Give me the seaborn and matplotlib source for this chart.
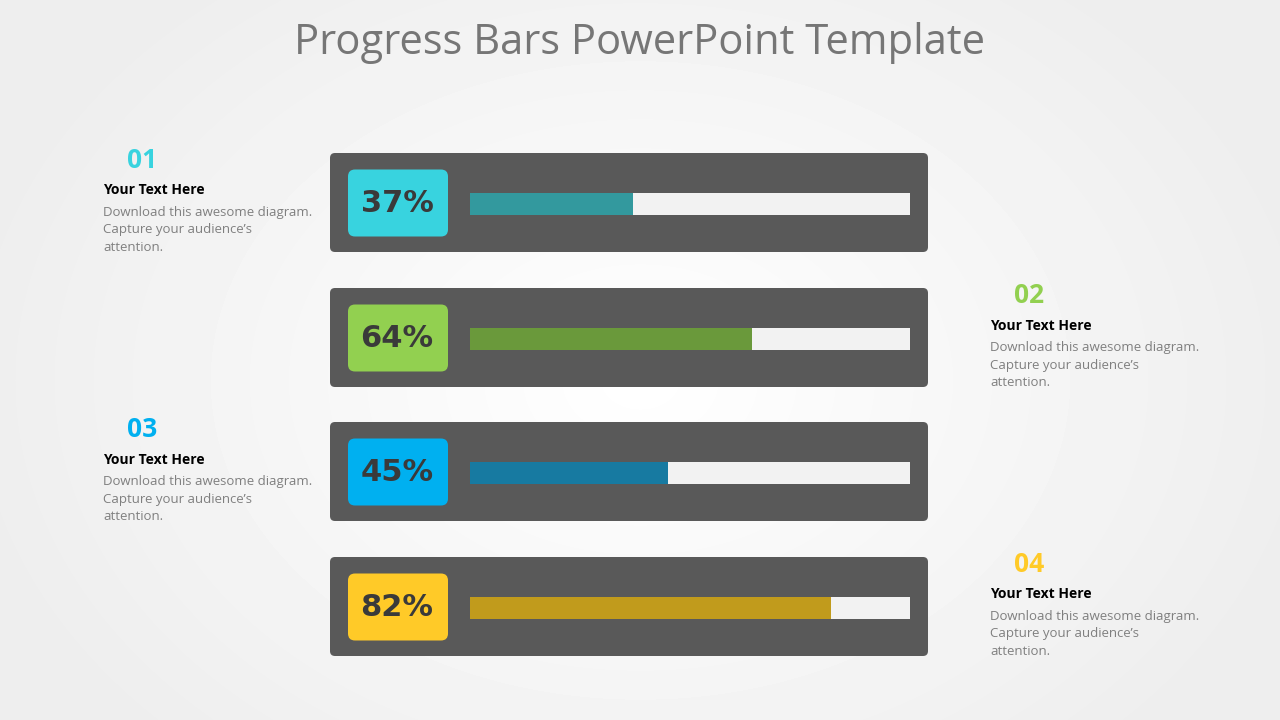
import numpy as np
import pandas as pd
import matplotlib.pyplot as plt
import seaborn as sns
from matplotlib.patches import FancyBboxPatch

# ---- data ----
labels = ["01", "02", "03", "04"]
values = [37, 64, 45, 82]
badge_colors = ["#38d3df", "#92d050", "#00b0f0", "#ffca28"]
fill_colors = ["#21a9b0", "#6aa82c", "#0084b8", "#dcaa00"]
title = "Progress Bars PowerPoint Template"
head = "Your Text Here"
desc = ["Download this awesome diagram.", "Capture your audience\u2019s", "attention."]

W, H = 1280, 720
fig = plt.figure(figsize=(12.8, 7.2), dpi=100)

# background layer in pixel coords
bg = fig.add_axes([0, 0, 1, 1])
bg.set_xlim(0, W)
bg.set_ylim(H, 0)
bg.axis("off")
yy, xx = np.mgrid[0:H, 0:W]
r = np.sqrt(((xx - 640) / 700) ** 2 + ((yy - 380) / 520) ** 2)
bg.imshow(1 - 0.07 * np.clip(r, 0, 1), cmap="gray", vmin=0, vmax=1,
          extent=[0, W, H, 0], zorder=0)

bg.text(640, 43, title, ha="center", va="center", fontsize=30,
        color="#767676", family="Open Sans")

centers = [202.5, 337.5, 471.5, 606.5]
for i, yc in enumerate(centers):
    bg.add_patch(FancyBboxPatch((330, yc - 49.5), 598, 99,
                                boxstyle="round,pad=0,rounding_size=5",
                                fc="#595959", ec="none", zorder=1))
    bg.add_patch(FancyBboxPatch((348, yc - 33), 100, 67,
                                boxstyle="round,pad=0,rounding_size=7",
                                fc=badge_colors[i], ec="none", zorder=2))
    bg.text(397, yc + 1, f"{values[i]}%", ha="center", va="center",
            fontsize=22, fontweight="bold", color="#3a3a3a",
            family=["Liberation Sans Narrow", "DejaVu Sans"], zorder=3)
    # side text
    if i % 2 == 0:
        nx, tx = 142, 103
    else:
        nx, tx = 1029, 990
    ty = yc - 42
    bg.text(nx, ty, labels[i], ha="center", va="center", fontsize=19,
            fontweight="bold", color=badge_colors[i], family="Open Sans")
    bg.text(tx, ty + 30, head, ha="left", va="center", fontsize=10,
            fontweight="bold", color="black", family="Open Sans")
    for k, line in enumerate(desc):
        bg.text(tx, ty + 52 + k * 17.5, line, ha="left", va="center",
                fontsize=9.5, color="#7f7f7f", family="Open Sans")

# progress bars
ax = fig.add_axes([470 / W, 1 - 675.5 / H, 440 / W, 539 / H])
ax.patch.set_alpha(0)
df = pd.DataFrame({"label": labels, "value": values, "track": [100] * 4})
sns.barplot(data=df, y="label", x="track", color="#f2f2f2", width=0.163,
            ax=ax, orient="h")
sns.barplot(data=df, y="label", x="value", hue="label",
            palette=fill_colors, width=0.163, ax=ax, orient="h", legend=False)
ax.set_xlim(0, 100)
ax.set_ylim(3.5, -0.5)
ax.axis("off")

fig.savefig("out.png", dpi=100)
